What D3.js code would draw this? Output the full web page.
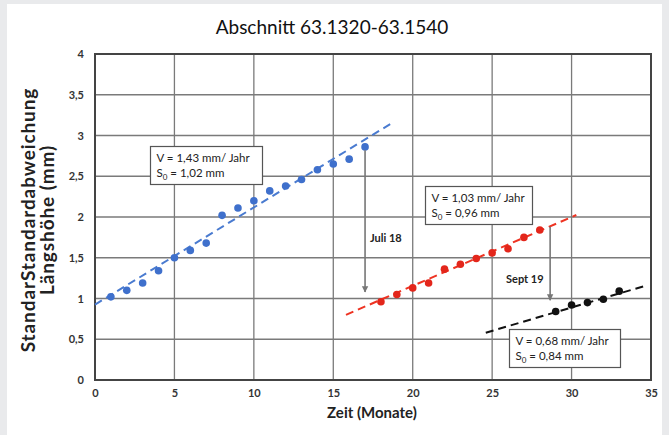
<!DOCTYPE html>
<html><head><meta charset="utf-8">
<script src="https://cdn.jsdelivr.net/npm/d3@7"></script>
<style>
html,body{margin:0;padding:0;background:#e9eaec;}
svg{display:block;}
</style></head>
<body>
<svg id="chart" width="669" height="435"></svg>
<script>
const title = "Abschnitt 63.1320-63.1540";
const xTitle = "Zeit (Monate)";
const yTitle = ["StandarStandardabweichung", "Längshöhe (mm)"];
const xTicks = [0,5,10,15,20,25,30,35];
const yTicks = [0,0.5,1,1.5,2,2.5,3,3.5,4];

const blueX = [1,2,3,4,5,6,7,8,9,10,11,12,13,14,15,16,17];
const blueY = [1.02,1.10,1.19,1.34,1.50,1.59,1.68,2.02,2.11,2.20,2.32,2.38,2.46,2.58,2.65,2.71,2.86];
const redX = [18,19,20,21,22,23,24,25,26,27,28];
const redY = [0.96,1.05,1.13,1.19,1.36,1.42,1.49,1.56,1.61,1.75,1.84];
const blackX = [29,30,31,32,33];
const blackY = [0.84,0.92,0.95,0.99,1.09];

// trend lines [x0, y0, x1, y1]
const blueTrend = [0, 0.925, 18.7, 3.154];
const redTrend = [15.8, 0.80, 30.3, 2.025];
const blackTrend = [24.6, 0.58, 34.6, 1.153];

const blueLabel = ["V = 1,43 mm/ Jahr", "1,02 mm"];
const redLabel = ["V = 1,03 mm/ Jahr", "0,96 mm"];
const blackLabel = ["V = 0,68 mm/ Jahr", "0,84 mm"];

const arrowJuli = {x:17, y0:2.82, y1:1.08, label:"Juli 18"};
const arrowSept = {x:28.65, y0:1.88, y1:0.98, label:"Sept 19"};

const svg = d3.select("#chart");
const font = "Lato, 'Open Sans', sans-serif";

svg.append("rect").attr("x",7).attr("y",4).attr("width",655).attr("height",431).attr("fill","#fff");

const x = d3.scaleLinear().domain([0,35]).range([95,651]);
const y = d3.scaleLinear().domain([0,4]).range([380,54]);

// grid
const g = svg.append("g");
g.selectAll(".gx").data(xTicks).join("line")
 .attr("x1",d=>x(d)).attr("x2",d=>x(d)).attr("y1",y(0)).attr("y2",y(4))
 .attr("stroke","#7a7a7a").attr("stroke-width",1.3);
g.selectAll(".gy").data(yTicks).join("line")
 .attr("x1",x(0)).attr("x2",x(35)).attr("y1",d=>y(d)).attr("y2",d=>y(d))
 .attr("stroke","#7a7a7a").attr("stroke-width",1.3);
g.append("rect").attr("x",x(0)).attr("y",y(4)).attr("width",x(35)-x(0)).attr("height",y(0)-y(4))
 .attr("fill","none").attr("stroke","#444").attr("stroke-width",2);

// axes labels via d3 axes
const fmt = d=>String(d).replace(".",",");
const xa = svg.append("g").attr("transform",`translate(0,${y(0)+6})`)
 .call(d3.axisBottom(x).tickValues(xTicks).tickSize(0).tickFormat(fmt));
const ya = svg.append("g").attr("transform",`translate(${x(0)-8},0)`)
 .call(d3.axisLeft(y).tickValues(yTicks).tickSize(0).tickFormat(fmt));
[xa,ya].forEach(a=>{
  a.select(".domain").remove();
  a.selectAll("text").attr("font-family",font).attr("font-size",11).attr("font-weight","bold").attr("fill","#333");
});

// titles
svg.append("text").attr("x",332).attr("y",34).attr("text-anchor","middle")
 .attr("font-family",font).attr("font-size",19).attr("fill","#111").text(title);
svg.append("text").attr("x",372).attr("y",418).attr("text-anchor","middle")
 .attr("font-family",font).attr("font-size",15).attr("font-weight","bold").attr("fill","#222").text(xTitle);
const yt = svg.append("text").attr("transform","translate(35,220) rotate(-90)")
 .attr("text-anchor","middle").attr("font-family",font).attr("font-size",19).attr("font-weight","bold")
 .attr("letter-spacing",0.9).attr("fill","#222");
yt.append("tspan").attr("x",0).attr("y",0).text(yTitle[0]);
yt.append("tspan").attr("x",0).attr("y",19).text(yTitle[1]);

// trend lines
function trend(t,c){
  svg.append("line").attr("x1",x(t[0])).attr("y1",y(t[1])).attr("x2",x(t[2])).attr("y2",y(t[3]))
   .attr("stroke",c).attr("stroke-width",2).attr("stroke-dasharray","8,5");
}
trend(blueTrend,"#4a7bd0");
trend(redTrend,"#ee3322");
trend(blackTrend,"#111");

// points
function pts(xs,ys,c){
  svg.append("g").selectAll("circle").data(xs).join("circle")
   .attr("cx",(d)=>x(d)).attr("cy",(d,i)=>y(ys[i])).attr("r",3.8).attr("fill",c);
}
pts(blueX,blueY,"#3f70cc");
pts(redX,redY,"#e3261b");
pts(blackX,blackY,"#111");

// arrows
const defs = svg.append("defs");
defs.append("marker").attr("id","ah").attr("viewBox","0 0 10 10").attr("refX",9).attr("refY",5)
 .attr("markerWidth",4).attr("markerHeight",5).attr("orient","auto")
 .append("path").attr("d","M0,0 L10,5 L0,10 Z").attr("fill","#777");
function arrow(a, lx, ly){
  svg.append("line").attr("x1",x(a.x)).attr("x2",x(a.x)).attr("y1",y(a.y0)).attr("y2",y(a.y1))
   .attr("stroke","#777").attr("stroke-width",1.6).attr("marker-end","url(#ah)");
  svg.append("text").attr("x",lx).attr("y",ly).attr("font-family",font).attr("font-size",11)
   .attr("font-weight","bold").attr("fill","#222").text(a.label);
}
arrow(arrowJuli, 370, 242);
arrow(arrowSept, 506, 283);

// label boxes
function box(lbl, bx, by, bw, bh){
  svg.append("rect").attr("x",bx).attr("y",by).attr("width",bw).attr("height",bh)
   .attr("fill","#fff").attr("stroke","#555").attr("stroke-width",1.2);
  svg.append("text").attr("x",bx+6).attr("y",by+15).attr("font-family",font).attr("font-size",11.5)
   .attr("fill","#222").text(lbl[0]);
  const t = svg.append("text").attr("x",bx+6).attr("y",by+30).attr("font-family",font).attr("font-size",11.5).attr("fill","#222");
  t.append("tspan").text("S");
  t.append("tspan").attr("font-size",8).attr("dy",3).text("0");
  t.append("tspan").attr("dy",-3).text(" = " + lbl[1]);
}
box(blueLabel, 150.5, 146.5, 112, 38);
box(redLabel, 425.5, 186.5, 107, 38);
box(blackLabel, 509.5, 329.5, 111, 38);
</script>
</body></html>
